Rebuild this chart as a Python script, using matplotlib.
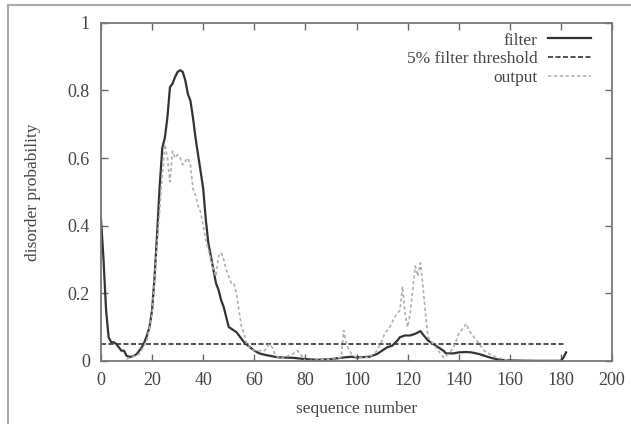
import numpy as np
import matplotlib
matplotlib.use('Agg')
from matplotlib import pyplot as plt
from matplotlib.lines import Line2D

# filter curve (solid)
filter_x = [0, 1, 2, 3, 4, 5, 6, 7, 8, 9, 10, 11, 12, 13, 14, 15, 16, 17, 18, 19,
            20, 21, 22, 23, 24, 25, 26, 27, 28, 29, 30, 31, 32, 33, 34, 35, 36, 37, 38, 39,
            40, 41, 42, 43, 44, 45, 46, 47, 48, 49, 50, 51, 52, 53, 54, 55, 56, 57, 58, 59,
            60, 62, 64, 66, 68, 70, 75, 80, 85, 90, 95, 98, 100, 105, 108, 110, 112, 114, 116, 117,
            119, 121, 123, 125, 126, 128, 130, 132, 134, 135, 138, 140, 143, 145, 148, 150, 153, 156, 160, 170,
            180, 181, 182]
filter_y = [0.42, 0.30, 0.15, 0.07, 0.055, 0.055, 0.05, 0.04, 0.03, 0.03, 0.015, 0.012, 0.012, 0.015, 0.02, 0.03, 0.04, 0.055, 0.075, 0.10,
            0.15, 0.25, 0.38, 0.52, 0.63, 0.66, 0.72, 0.81, 0.82, 0.84, 0.855, 0.86, 0.855, 0.83, 0.79, 0.77, 0.72, 0.66, 0.61, 0.56,
            0.51, 0.42, 0.35, 0.31, 0.27, 0.23, 0.21, 0.18, 0.16, 0.13, 0.10, 0.095, 0.09, 0.085, 0.075, 0.065, 0.055, 0.048, 0.042, 0.036,
            0.03, 0.022, 0.018, 0.015, 0.012, 0.01, 0.009, 0.005, 0.003, 0.005, 0.01, 0.012, 0.01, 0.012, 0.02, 0.03, 0.04, 0.045, 0.06, 0.07,
            0.075, 0.075, 0.08, 0.088, 0.078, 0.06, 0.05, 0.04, 0.03, 0.022, 0.022, 0.025, 0.026, 0.025, 0.02, 0.015, 0.008, 0.003, 0.001, 0.0,
            0.0, 0.01, 0.025]

# output curve (light dotted)
output_x = [10, 15, 18, 20, 22, 23, 24, 25, 26, 27, 28, 29, 30, 31, 32, 33, 34, 35, 36, 37,
            38, 39, 40, 41, 42, 43, 44, 45, 46, 47, 48, 49, 50, 51, 52, 53, 54, 55, 56, 57,
            58, 60, 62, 64, 66, 67, 68, 70, 75, 77, 78, 80, 90, 94, 95, 96, 98, 100, 105, 108,
            110, 111, 113, 115, 117, 118, 119, 120, 121, 123, 124, 125, 126, 127, 128, 130, 132, 134, 136, 138,
            140, 142, 143, 144, 146, 148, 150, 152, 155, 160, 170, 180]
output_y = [0.005, 0.02, 0.06, 0.14, 0.35, 0.45, 0.55, 0.64, 0.60, 0.53, 0.62, 0.60, 0.61, 0.60, 0.58, 0.59, 0.60, 0.58, 0.51, 0.49,
            0.46, 0.44, 0.40, 0.36, 0.33, 0.30, 0.27, 0.25, 0.31, 0.32, 0.30, 0.27, 0.25, 0.23, 0.23, 0.20, 0.15, 0.10, 0.08, 0.05,
            0.04, 0.03, 0.03, 0.03, 0.05, 0.04, 0.02, 0.005, 0.02, 0.03, 0.02, 0.0, 0.005, 0.01, 0.09, 0.05, 0.02, 0.01, 0.01, 0.03,
            0.06, 0.08, 0.10, 0.13, 0.15, 0.22, 0.14, 0.10, 0.14, 0.28, 0.25, 0.29, 0.22, 0.14, 0.07, 0.05, 0.03, 0.01, 0.02, 0.04,
            0.08, 0.10, 0.11, 0.09, 0.07, 0.05, 0.03, 0.02, 0.01, 0.0, 0.0, 0.0]

threshold = 0.05
threshold_x = [0, 182]

xticks = [0, 20, 40, 60, 80, 100, 120, 140, 160, 180, 200]
yticks = [0, 0.2, 0.4, 0.6, 0.8, 1]
yticklabels = ['0', '0.2', '0.4', '0.6', '0.8', '1']

plt.rcParams['font.family'] = ['Liberation Serif', 'DejaVu Serif']
plt.rcParams['font.size'] = 12.5
txt = '#444444'

fig = plt.figure(figsize=(6.31, 4.24), dpi=100)
fig.patch.set_facecolor('white')
ax = fig.add_axes([0.160, 0.149, 0.810, 0.797])

ax.plot(filter_x, filter_y, color='#333333', lw=1.6, label='filter')
ax.plot(threshold_x, [threshold, threshold], color='#333333', lw=1.2,
        linestyle=(0, (3, 1.5)), label='5% filter threshold')
ax.plot(output_x, output_y, color='#b0b0b0', lw=1.2,
        linestyle=(0, (2, 1.5)), label='output')

ax.set_xlim(0, 200)
ax.set_ylim(0, 1)
ax.set_xticks(xticks)
ax.set_yticks(yticks)
ax.set_yticklabels(yticklabels)
ax.tick_params(direction='in', top=True, right=True, length=5, width=1,
               color='#666666', labelcolor=txt, labelsize=13)
ax.tick_params(axis='x', pad=8)
ax.tick_params(axis='y', pad=8)
for s in ax.spines.values():
    s.set_color('#777777')
    s.set_linewidth(1.3)

ax.set_xlabel('sequence number', color=txt, fontsize=12.5, labelpad=9)
ax.set_ylabel('disorder probability', color=txt, fontsize=12.5, labelpad=19)

leg = ax.legend(loc='upper right', bbox_to_anchor=(0.959, 0.972), frameon=False,
                markerfirst=False, handlelength=2.5, handletextpad=0.6,
                labelspacing=0.15, borderaxespad=0, borderpad=0, fontsize=12.5)
for t in leg.get_texts():
    t.set_color(txt)

# light frame around the picture
fig.add_artist(Line2D([8 / 631, 8 / 631], [0, 1 - 5 / 424], transform=fig.transFigure,
                      color='#aaaaaa', lw=1.5))
fig.add_artist(Line2D([8 / 631, 1], [1 - 5 / 424, 1 - 5 / 424], transform=fig.transFigure,
                      color='#aaaaaa', lw=1.5))

fig.savefig('out.png', dpi=100)
